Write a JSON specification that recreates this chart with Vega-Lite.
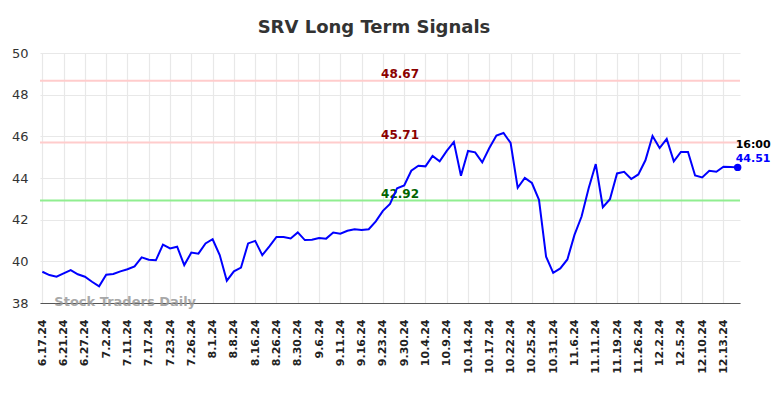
{
  "$schema": "https://vega.github.io/schema/vega-lite/v6.json",
  "width": 700,
  "height": 250,
  "autosize": "none",
  "padding": {"left": 40, "top": 53, "right": 44, "bottom": 95},
  "background": "white",
  "config": {
    "view": {"stroke": null},
    "font": "DejaVu Sans"
  },
  "title": {
    "text": "SRV Long Term Signals",
    "font": "DejaVu Sans",
    "fontSize": 18,
    "fontWeight": "bold",
    "color": "#333333",
    "anchor": "middle",
    "dx": -16,
    "baseline": "bottom",
    "offset": -8
  },
  "datasets": {
    "prices": [
      {"date": "6.17.24", "price": 39.50}, {"date": "6.18.24", "price": 39.34}, {"date": "6.20.24", "price": 39.26},
      {"date": "6.21.24", "price": 39.42}, {"date": "6.24.24", "price": 39.58}, {"date": "6.25.24", "price": 39.38},
      {"date": "6.27.24", "price": 39.26}, {"date": "6.28.24", "price": 39.02}, {"date": "7.1.24", "price": 38.80},
      {"date": "7.2.24", "price": 39.36}, {"date": "7.3.24", "price": 39.39}, {"date": "7.9.24", "price": 39.52},
      {"date": "7.11.24", "price": 39.62}, {"date": "7.12.24", "price": 39.76}, {"date": "7.15.24", "price": 40.19},
      {"date": "7.17.24", "price": 40.08}, {"date": "7.18.24", "price": 40.05}, {"date": "7.22.24", "price": 40.80},
      {"date": "7.23.24", "price": 40.62}, {"date": "7.24.24", "price": 40.70}, {"date": "7.25.24", "price": 39.82},
      {"date": "7.26.24", "price": 40.42}, {"date": "7.29.24", "price": 40.37}, {"date": "7.31.24", "price": 40.86},
      {"date": "8.1.24", "price": 41.06}, {"date": "8.5.24", "price": 40.30}, {"date": "8.6.24", "price": 39.07},
      {"date": "8.8.24", "price": 39.52}, {"date": "8.12.24", "price": 39.70}, {"date": "8.14.24", "price": 40.86},
      {"date": "8.16.24", "price": 40.98}, {"date": "8.20.24", "price": 40.30}, {"date": "8.22.24", "price": 40.72},
      {"date": "8.26.24", "price": 41.17}, {"date": "8.27.24", "price": 41.17}, {"date": "8.29.24", "price": 41.10},
      {"date": "8.30.24", "price": 41.39}, {"date": "9.3.24", "price": 41.02}, {"date": "9.4.24", "price": 41.04},
      {"date": "9.6.24", "price": 41.12}, {"date": "9.9.24", "price": 41.09}, {"date": "9.10.24", "price": 41.38},
      {"date": "9.11.24", "price": 41.33}, {"date": "9.12.24", "price": 41.47}, {"date": "9.13.24", "price": 41.54},
      {"date": "9.16.24", "price": 41.50}, {"date": "9.18.24", "price": 41.54}, {"date": "9.20.24", "price": 41.92},
      {"date": "9.23.24", "price": 42.42}, {"date": "9.25.24", "price": 42.76}, {"date": "9.27.24", "price": 43.51},
      {"date": "9.30.24", "price": 43.64}, {"date": "10.2.24", "price": 44.35}, {"date": "10.3.24", "price": 44.59},
      {"date": "10.4.24", "price": 44.56}, {"date": "10.7.24", "price": 45.06}, {"date": "10.8.24", "price": 44.80},
      {"date": "10.9.24", "price": 45.30}, {"date": "10.10.24", "price": 45.73}, {"date": "10.11.24", "price": 44.11},
      {"date": "10.14.24", "price": 45.30}, {"date": "10.15.24", "price": 45.23}, {"date": "10.16.24", "price": 44.75},
      {"date": "10.17.24", "price": 45.44}, {"date": "10.18.24", "price": 46.04}, {"date": "10.21.24", "price": 46.16},
      {"date": "10.22.24", "price": 45.68}, {"date": "10.23.24", "price": 43.53}, {"date": "10.24.24", "price": 44.00},
      {"date": "10.25.24", "price": 43.76}, {"date": "10.28.24", "price": 42.95}, {"date": "10.29.24", "price": 40.22},
      {"date": "10.31.24", "price": 39.45}, {"date": "11.1.24", "price": 39.66}, {"date": "11.4.24", "price": 40.09},
      {"date": "11.6.24", "price": 41.27}, {"date": "11.7.24", "price": 42.15}, {"date": "11.8.24", "price": 43.51},
      {"date": "11.11.24", "price": 44.67}, {"date": "11.13.24", "price": 42.60}, {"date": "11.15.24", "price": 42.98},
      {"date": "11.19.24", "price": 44.22}, {"date": "11.21.24", "price": 44.30}, {"date": "11.22.24", "price": 43.95},
      {"date": "11.26.24", "price": 44.17}, {"date": "11.27.24", "price": 44.85}, {"date": "11.29.24", "price": 46.02},
      {"date": "12.2.24", "price": 45.44}, {"date": "12.3.24", "price": 45.88}, {"date": "12.4.24", "price": 44.80},
      {"date": "12.5.24", "price": 45.25}, {"date": "12.6.24", "price": 45.25}, {"date": "12.9.24", "price": 44.12},
      {"date": "12.10.24", "price": 44.03}, {"date": "12.11.24", "price": 44.35}, {"date": "12.12.24", "price": 44.30},
      {"date": "12.13.24", "price": 44.54}, {"date": "12.16.24", "price": 44.53}, {"date": "12.17.24", "price": 44.51}
    ],
    "levels": [
      {"level": 48.67, "kind": "resistance"},
      {"level": 45.71, "kind": "resistance"},
      {"level": 42.92, "kind": "support"}
    ]
  },
  "data": {"name": "prices"},
  "layer": [
    {
      "mark": {"type": "line", "strokeWidth": 0, "opacity": 0},
      "encoding": {
        "x": {
          "field": "date", "type": "ordinal", "sort": null,
          "scale": {"type": "point", "padding": 0.33},
          "axis": {
            "title": null,
            "values": ["6.17.24","6.21.24","6.27.24","7.2.24","7.11.24","7.17.24","7.23.24","7.26.24","8.1.24","8.8.24","8.16.24","8.26.24","8.30.24","9.6.24","9.11.24","9.16.24","9.23.24","9.30.24","10.4.24","10.9.24","10.14.24","10.17.24","10.22.24","10.25.24","10.31.24","11.6.24","11.11.24","11.19.24","11.26.24","12.2.24","12.5.24","12.10.24","12.13.24"],
            "labelAngle": 270,
            "labelFont": "DejaVu Sans",
            "labelFontSize": 11,
            "labelFontWeight": "bold",
            "labelColor": "#222222",
            "labelPadding": 16,
            "ticks": false,
            "grid": true,
            "gridColor": "#e8e8e8",
            "gridWidth": 1.2,
            "domainColor": "#555555",
            "domainWidth": 1.2
          }
        },
        "y": {
          "field": "price", "type": "quantitative",
          "scale": {"domain": [38, 50], "nice": false, "zero": false},
          "axis": {
            "title": null,
            "values": [38, 40, 42, 44, 46, 48, 50],
            "labelFont": "DejaVu Sans",
            "labelFontSize": 13,
            "labelColor": "#333333",
            "labelPadding": 12,
            "ticks": false,
            "domain": false,
            "grid": true,
            "gridColor": "#e8e8e8",
            "gridWidth": 1.2
          }
        }
      }
    },
    {
      "data": {"name": "levels"},
      "mark": {"type": "rule", "strokeWidth": 2},
      "encoding": {
        "y": {"field": "level", "type": "quantitative"},
        "stroke": {
          "field": "kind", "type": "nominal",
          "scale": {"domain": ["resistance", "support"], "range": ["#ffcccc", "#90ee90"]},
          "legend": null
        }
      }
    },
    {
      "data": {"name": "levels"},
      "mark": {"type": "text", "font": "DejaVu Sans", "fontSize": 12, "fontWeight": "bold", "baseline": "alphabetic", "dy": -3, "dx": 3, "align": "center"},
      "encoding": {
        "x": {"datum": "9.27.24", "type": "ordinal"},
        "y": {"field": "level", "type": "quantitative"},
        "text": {"field": "level", "type": "quantitative", "format": ".2f"},
        "fill": {
          "field": "kind", "type": "nominal",
          "scale": {"domain": ["resistance", "support"], "range": ["#8b0000", "#006400"]},
          "legend": null
        }
      }
    },
    {
      "mark": {"type": "line", "color": "#0000ff", "strokeWidth": 2},
      "encoding": {
        "x": {"field": "date", "type": "ordinal", "sort": null},
        "y": {"field": "price", "type": "quantitative"}
      }
    },
    {
      "transform": [{"filter": "datum.date == '12.17.24'"}],
      "mark": {"type": "point", "filled": true, "color": "#0000ff", "size": 55, "opacity": 1},
      "encoding": {
        "x": {"field": "date", "type": "ordinal", "sort": null},
        "y": {"field": "price", "type": "quantitative"}
      }
    },
    {
      "transform": [{"filter": "datum.date == '12.17.24'"}],
      "mark": {"type": "text", "font": "DejaVu Sans", "fontSize": 11, "fontWeight": "bold", "color": "#000000", "align": "left", "baseline": "alphabetic", "dy": -19, "dx": -2, "text": "16:00"},
      "encoding": {
        "x": {"field": "date", "type": "ordinal", "sort": null},
        "y": {"field": "price", "type": "quantitative"}
      }
    },
    {
      "transform": [{"filter": "datum.date == '12.17.24'"}],
      "mark": {"type": "text", "font": "DejaVu Sans", "fontSize": 11, "fontWeight": "bold", "color": "#0000ff", "align": "left", "baseline": "alphabetic", "dy": -5, "dx": -2},
      "encoding": {
        "x": {"field": "date", "type": "ordinal", "sort": null},
        "y": {"field": "price", "type": "quantitative"},
        "text": {"field": "price", "type": "quantitative", "format": ".2f"}
      }
    },
    {
      "transform": [{"filter": "datum.date == '6.17.24'"}],
      "mark": {"type": "text", "font": "DejaVu Sans", "fontSize": 13, "fontWeight": "bold", "color": "#999999", "opacity": 0.85, "align": "left", "baseline": "middle", "dx": 12, "dy": -1, "text": "Stock Traders Daily"},
      "encoding": {
        "x": {"field": "date", "type": "ordinal", "sort": null},
        "y": {"datum": 38, "type": "quantitative"}
      }
    }
  ]
}
